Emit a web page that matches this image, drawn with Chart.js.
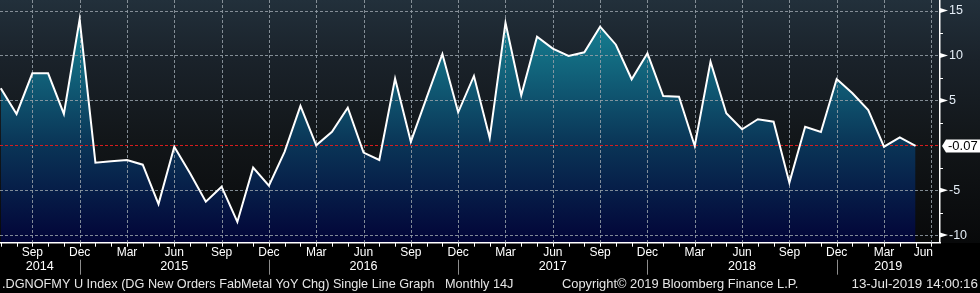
<!DOCTYPE html>
<html>
<head>
<meta charset="utf-8">
<script src="https://cdn.jsdelivr.net/npm/chart.js@4.4.1/dist/chart.umd.min.js"></script>
<style>
  html, body { margin: 0; padding: 0; background: #000; }
  #wrap {
    position: relative; width: 980px; height: 293px;
    background: linear-gradient(to bottom, #22303b 0px, #1a222a 60px, #121619 140px, #08090a 243px, #000 243px, #000 293px);
  }
  canvas { display: block; }
</style>
</head>
<body>
<div id="wrap"><canvas id="chart" width="980" height="293"></canvas></div>
<script>
// monthly categories (last one is the empty Jun 2019 slot on the axis)
const months = [
  'Jul 2014', 'Aug 2014', 'Sep 2014', 'Oct 2014', 'Nov 2014', 'Dec 2014',
  'Jan 2015', 'Feb 2015', 'Mar 2015', 'Apr 2015', 'May 2015', 'Jun 2015',
  'Jul 2015', 'Aug 2015', 'Sep 2015', 'Oct 2015', 'Nov 2015', 'Dec 2015',
  'Jan 2016', 'Feb 2016', 'Mar 2016', 'Apr 2016', 'May 2016', 'Jun 2016',
  'Jul 2016', 'Aug 2016', 'Sep 2016', 'Oct 2016', 'Nov 2016', 'Dec 2016',
  'Jan 2017', 'Feb 2017', 'Mar 2017', 'Apr 2017', 'May 2017', 'Jun 2017',
  'Jul 2017', 'Aug 2017', 'Sep 2017', 'Oct 2017', 'Nov 2017', 'Dec 2017',
  'Jan 2018', 'Feb 2018', 'Mar 2018', 'Apr 2018', 'May 2018', 'Jun 2018',
  'Jul 2018', 'Aug 2018', 'Sep 2018', 'Oct 2018', 'Nov 2018', 'Dec 2018',
  'Jan 2019', 'Feb 2019', 'Mar 2019', 'Apr 2019', 'May 2019', 'Jun 2019'
]

// DG New Orders FabMetal YoY Chg
const values = [
  6.35, 3.49, 8.02, 8.02, 3.49, 14.03,
  -1.94, -1.78, -1.64, -2.16, -6.54, -0.16,
  -3.12, -6.28, -4.61, -8.54, -2.49, -4.50,
  -0.71, 4.38, 0.00, 1.51, 4.19, -0.82,
  -1.64, 7.42, 0.40, 5.30, 10.17, 3.67,
  7.72, 0.81, 13.65, 5.57, 12.09, 10.76,
  9.94, 10.36, 13.21, 11.20, 7.35, 10.24,
  5.49, 5.41, -0.08, 9.31, 3.56, 1.78,
  2.90, 2.63, -4.16, 2.07, 1.48, 7.38,
  5.79, 3.93, -0.16, 0.89, -0.07
]

const quarterMonths = ['Mar', 'Jun', 'Sep', 'Dec']
const yTicks = [-10, -5, 0, 5, 10, 15]
const yMinorTicks = [-7.5, -2.5, 2.5, 7.5, 12.5]
const lastLabel = '-0.07'

const footerLeft = '.DGNOFMY U Index (DG New Orders FabMetal YoY Chg) Single Line Graph'
const footerFreq = 'Monthly'
const footerCode = '14J'
const footerCopy = 'Copyright\u00a9 2019 Bloomberg Finance L.P.'
const footerDate = '13-Jul-2019 14:00:16'

const FONT = '"Liberation Sans", Arial, sans-serif'
const gridGray = 'rgba(150,160,168,0.85)'
const zeroRed = '#d81c1c'

const quarterIdx = months
  .map((m, i) => quarterMonths.includes(m.split(' ')[0]) ? i : -1)
  .filter(i => i >= 0)
const decIdx = months.map((m, i) => m.startsWith('Dec') ? i : -1).filter(i => i >= 0)
const years = [...new Set(months.map(m => m.split(' ')[1]))]

function fillGradient(context) {
  const chart = context.chart
  const a = chart.chartArea
  if (!a) return 'rgba(0,0,0,0)'
  const g = chart.ctx.createLinearGradient(0, a.top, 0, a.bottom)
  g.addColorStop(0, '#178c9c')
  g.addColorStop(0.3, '#11627a')
  g.addColorStop(0.6, '#0a3456')
  g.addColorStop(1, '#020438')
  return g
}

function line(ctx, x1, y1, x2, y2) {
  ctx.beginPath()
  ctx.moveTo(x1, y1)
  ctx.lineTo(x2, y2)
  ctx.stroke()
}

// dashed grid, drawn over the area fill and under the white line
const dashedGrid = {
  id: 'dashedGrid',
  beforeDatasetsDraw(chart) {
    const { ctx, chartArea: a, scales: { x, y } } = chart
    ctx.save()
    ctx.lineWidth = 1
    ctx.setLineDash([3, 2])
    ctx.strokeStyle = gridGray
    quarterIdx.forEach(i => {
      const px = Math.round(x.getPixelForValue(i)) + 0.5
      if (px > a.right) return
      line(ctx, px, a.top, px, a.bottom)
    })
    yTicks.forEach(v => {
      const py = Math.round(y.getPixelForValue(v)) + 0.5
      ctx.strokeStyle = v === 0 ? zeroRed : gridGray
      line(ctx, a.left, py, a.right, py)
    })
    ctx.restore()
  }
}

const axisDecor = {
  id: 'axisDecor',
  afterDraw(chart) {
    const { ctx, chartArea: a, scales: { x, y } } = chart
    ctx.save()

    // monthly tick marks under the plot
    ctx.strokeStyle = '#ffffff'
    ctx.lineWidth = 1
    months.forEach((m, i) => {
      const px = Math.round(x.getPixelForValue(i)) + 0.5
      if (px > a.right) return
      line(ctx, px, a.bottom, px, a.bottom + 4)
    })

    // quarter month labels
    ctx.font = '12px ' + FONT
    ctx.fillStyle = '#ffffff'
    ctx.textAlign = 'center'
    ctx.textBaseline = 'middle'
    quarterIdx.forEach(i => {
      const mon = months[i].split(' ')[0]
      const w = ctx.measureText(mon).width
      const px = Math.min(x.getPixelForValue(i), a.right - 7 - w / 2)
      ctx.fillText(mon, px, a.bottom + 10)
    })

    // year separators and year labels
    ctx.strokeStyle = '#8c8c8c'
    decIdx.forEach(i => {
      const px = Math.round(x.getPixelForValue(i)) + 0.5
      line(ctx, px, a.bottom + 17, px, a.bottom + 32)
    })
    ctx.font = '12.6px ' + FONT
    const edges = [x.min, ...decIdx, x.max]
    years.forEach((yr, k) => {
      const mid = (x.getPixelForValue(edges[k]) + x.getPixelForValue(edges[k + 1])) / 2
      ctx.fillText(yr, mid, a.bottom + 24)
    })

    // right axis: minor ticks, arrows, labels
    ctx.strokeStyle = '#ffffff'
    yMinorTicks.forEach(v => {
      const py = Math.round(y.getPixelForValue(v)) + 0.5
      line(ctx, a.right, py, a.right + 3, py)
    })
    ctx.textAlign = 'left'
    ctx.font = '12.5px ' + FONT
    yTicks.forEach(v => {
      if (v === 0) return
      const py = y.getPixelForValue(v)
      ctx.fillStyle = '#ffffff'
      ctx.beginPath()
      ctx.moveTo(a.right, py - 2.5)
      ctx.lineTo(a.right + 8, py)
      ctx.lineTo(a.right, py + 2.5)
      ctx.closePath()
      ctx.fill()
      ctx.fillStyle = '#e4edf6'
      ctx.fillText(String(v), a.right + 9, py)
    })

    // last value box
    const ly = y.getPixelForValue(values[values.length - 1])
    ctx.fillStyle = '#ffffff'
    ctx.beginPath()
    ctx.moveTo(a.right + 2, ly)
    ctx.lineTo(a.right + 6, ly - 6.5)
    ctx.lineTo(980, ly - 6.5)
    ctx.lineTo(980, ly + 6.5)
    ctx.lineTo(a.right + 6, ly + 6.5)
    ctx.closePath()
    ctx.fill()
    ctx.fillStyle = '#000000'
    ctx.font = '13px ' + FONT
    ctx.fillText(lastLabel, a.right + 8, ly + 0.5)

    // footer
    ctx.fillStyle = '#e6e6e6'
    const fy = a.bottom + 42
    ctx.font = '12.7px ' + FONT
    ctx.fillText(footerLeft, 2, fy)
    ctx.fillText(footerFreq, 445, fy)
    ctx.fillText(footerCode, 493, fy)
    ctx.font = '12.85px ' + FONT
    ctx.fillText(footerCopy, 562, fy)
    ctx.textAlign = 'right'
    ctx.font = '13.4px ' + FONT
    ctx.fillText(footerDate, 978, fy)

    ctx.restore()
  }
}

new Chart(document.getElementById('chart'), {
  type: 'line',
  data: {
    datasets: [{
      data: values.map((v, i) => ({ x: i, y: v })),
      borderColor: '#ffffff',
      borderWidth: 2,
      pointRadius: 0,
      tension: 0,
      fill: 'start',
      backgroundColor: fillGradient
    }]
  },
  options: {
    responsive: false,
    animation: false,
    devicePixelRatio: 1,
    layout: { padding: { left: 0, top: 0, right: 40, bottom: 50.3 } },
    plugins: {
      legend: { display: false },
      tooltip: { enabled: false },
      filler: { drawTime: 'beforeDraw' }
    },
    scales: {
      x: {
        type: 'linear',
        min: -0.05,
        max: 59.55,
        afterBuildTicks: scale => { scale.ticks = quarterIdx.map(i => ({ value: i })) },
        ticks: { display: false },
        grid: { display: false, drawTicks: false },
        border: { display: true, color: '#ffffff', width: 1.5 }
      },
      y: {
        position: 'right',
        min: -10.85,
        max: 16.18,
        afterBuildTicks: scale => { scale.ticks = yTicks.map(v => ({ value: v })) },
        ticks: { display: false },
        grid: { display: false, drawTicks: false },
        border: { display: true, color: '#ffffff', width: 1.5 }
      }
    }
  },
  plugins: [dashedGrid, axisDecor]
})
</script>
</body>
</html>
